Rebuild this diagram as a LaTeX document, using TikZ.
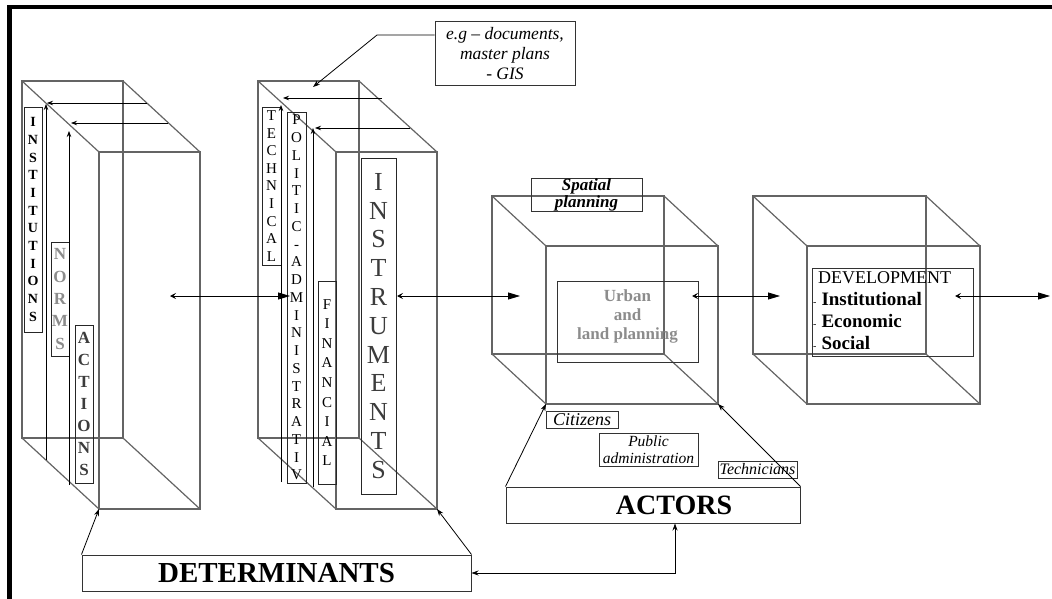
\documentclass[tikz,border=0pt]{standalone}
\usepackage{fontspec}
\setmainfont{Liberation Serif}
\usetikzlibrary{arrows.meta}
\definecolor{edgecol}{RGB}{100,100,100}
\definecolor{lgray}{RGB}{140,140,140}
\definecolor{dgray}{RGB}{60,60,60}
\newcommand\wirebox[7]{%
  \coordinate (#1btl) at (#2,#3);
  \coordinate (#1btr) at (#4,#3);
  \coordinate (#1bbl) at (#2,#5);
  \coordinate (#1bbr) at (#4,#5);
  \coordinate (#1ftl) at (#2+#6,#3+#7);
  \coordinate (#1ftr) at (#4+#6,#3+#7);
  \coordinate (#1fbl) at (#2+#6,#5+#7);
  \coordinate (#1fbr) at (#4+#6,#5+#7);
  \draw[edgeline] (#1btl) rectangle (#1bbr);
  \draw[edgeline] (#1ftl) rectangle (#1fbr);
  \draw[edgeline] (#1btl) -- (#1ftl) (#1btr) -- (#1ftr) (#1bbl) -- (#1fbl) (#1bbr) -- (#1fbr);
}
\begin{document}
\begin{tikzpicture}[x=1pt,y=-1pt,
  edgeline/.style={draw=edgecol, line width=1.2pt},
  lbox/.style={draw=black!85, line width=0.8pt, inner sep=0pt, align=center},
  tbox/.style={draw=black!80, line width=1pt, inner sep=0pt, align=center},
  arr/.style={draw=black, line width=0.8pt},
  inarrow/.style={arr, -{Stealth[length=6pt,width=4.5pt]}},
  dblarrow/.style={arr, {Stealth[length=6pt,width=6pt,inset=2.5pt]}-{Triangle[length=12pt,width=7pt]}},
  tiparrow/.style={arr, -{Stealth[length=7pt,width=5pt]}},
]
\useasboundingbox (0,0) rectangle (1052,599);
% frame lines
\draw[line width=4.5pt] (9.5,599) -- (9.5,7) -- (1052,7);

% wireframe boxes
\wirebox{pa}{22}{81}{123}{438}{77}{71}
\wirebox{pb}{258}{81}{359}{438}{78}{71}
\wirebox{pc}{492}{196}{664}{354}{54}{50}
\wirebox{pd}{753}{196}{926}{354}{54}{50}

% prism 1 letters
\node[lbox, minimum width=18, minimum height=225, font={\bfseries\fontsize{14}{17.7}\selectfont}] (inst) at (33,219.5)
  {I\\N\\S\\T\\I\\T\\U\\T\\I\\O\\N\\S};
\node[lbox, minimum width=18, minimum height=114, text=lgray, font={\bfseries\fontsize{17}{22.3}\selectfont}] (norms) at (60,299)
  {N\\O\\R\\M\\S};
\node[lbox, minimum width=18, minimum height=158, text=dgray, font={\bfseries\fontsize{17}{22}\selectfont}] (actions) at (84,404)
  {A\\C\\T\\I\\O\\N\\S};

% prism 1 inner arrows
\coordinate (pa1r) at (147,103); \coordinate (pa1t) at (47,103);
\coordinate (pa2r) at (168,123); \coordinate (pa2t) at (71,123);
\coordinate (pav1b) at (46,460); \coordinate (pav1t) at (46,104);
\coordinate (pav2b) at (69,485); \coordinate (pav2t) at (69,131);
\draw[inarrow] (pa1r) -- (pa1t);
\draw[inarrow] (pa2r) -- (pa2t);
\draw[inarrow] (pav1b) -- (pav1t);
\draw[inarrow] (pav2b) -- (pav2t);

% prism 2 letters
\node[lbox, minimum width=19, minimum height=158, font={\fontsize{15}{17.6}\selectfont}] (tech) at (271.5,186)
  {T\\E\\C\\H\\N\\I\\C\\A\\L};
\node[lbox, minimum width=19, minimum height=371, font={\fontsize{15}{17.75}\selectfont}] (polit) at (296.5,297.5)
  {P\\O\\L\\I\\T\\I\\C\\-\\A\\D\\M\\I\\N\\I\\S\\T\\R\\A\\T\\I\\V};
\node[lbox, minimum width=18, minimum height=203, font={\fontsize{15}{19.6}\selectfont}] (fin) at (327,382.5)
  {F\\I\\N\\A\\N\\C\\I\\A\\L};
\node[lbox, minimum width=35, minimum height=336, text=dgray, font={\fontsize{26}{28.8}\selectfont}] (instr) at (378.5,326)
  {I\\N\\S\\T\\R\\U\\M\\E\\N\\T\\S};

% prism 2 inner arrows
\coordinate (pb1r) at (382,98); \coordinate (pb1t) at (283,98);
\coordinate (pb2r) at (410,128); \coordinate (pb2t) at (315,128);
\coordinate (pbv1b) at (281,482); \coordinate (pbv1t) at (281,105);
\coordinate (pbv2b) at (313,487); \coordinate (pbv2t) at (313,128);
\draw[inarrow] (pb1r) -- (pb1t);
\draw[inarrow] (pb2r) -- (pb2t);
\draw[inarrow] (pbv1b) -- (pbv1t);
\draw[inarrow] (pbv2b) -- (pbv2t);

% e.g. box
\node[tbox, minimum width=140, minimum height=64, font={\itshape\fontsize{17.5}{20}\selectfont}] (eg) at (505,54)
  {e.g -- documents,\\master plans\\- GIS};
\coordinate (egy) at (0,35);
\coordinate (egbend) at (377,35);
\coordinate (egtip) at (313,87);
\draw[tiparrow] (eg.west |- egy) -- (egbend) -- (egtip);

% cube 3 contents
\node[tbox, minimum width=111, minimum height=33, font={\bfseries\itshape\fontsize{17}{17}\selectfont}] (spatial) at (586.5,194.5)
  {Spatial\\planning};
\node[tbox, minimum width=141, minimum height=81] (urban) at (627.5,321.5) {};
\node[inner sep=0pt, align=center, text=lgray, font={\bfseries\fontsize{17}{19}\selectfont}] (urbantext) at (627.5,316)
  {Urban\\and\\land planning};

% cube 4 contents
\node[tbox, minimum width=161, minimum height=88] (devel) at (892.5,312) {};
\node[inner sep=0pt, align=left, anchor=north west, font={\fontsize{18}{22}\selectfont}] (develtext) at (813,271)
  {\hspace*{5pt}DEVELOPMENT\\
   {\fontsize{10}{10}\selectfont -}\hspace{5pt}{\bfseries\fontsize{19}{22}\selectfont Institutional}\\
   {\fontsize{10}{10}\selectfont -}\hspace{5pt}{\bfseries\fontsize{19}{22}\selectfont Economic}\\
   {\fontsize{10}{10}\selectfont -}\hspace{5pt}{\bfseries\fontsize{19}{22}\selectfont Social}};

% main horizontal arrows
\coordinate (m1l) at (170,296); \coordinate (m1r) at (290,296);
\coordinate (m2l) at (397,296); \coordinate (m2r) at (520,296);
\coordinate (m3l) at (692,296); \coordinate (m3r) at (780,296);
\coordinate (m4l) at (955,296); \coordinate (m4r) at (1050,296);
\draw[dblarrow] (m1l) -- (m1r);
\draw[dblarrow] (m2l) -- (m2r);
\draw[dblarrow] (m3l) -- (m3r);
\draw[dblarrow] (m4l) -- (m4r);

% actors
\node[tbox, minimum width=72, minimum height=17, font={\itshape\fontsize{18}{17}\selectfont}] (citizens) at (582,419.5) {Citizens};
\node[tbox, minimum width=99, minimum height=33, font={\itshape\fontsize{15.5}{17}\selectfont}] (public) at (648.5,449.5) {Public\\administration};
\node[tbox, minimum width=79, minimum height=17, font={\itshape\fontsize{16}{17}\selectfont}] (techn) at (757.5,469.5) {Technicians};
\node[tbox, minimum width=294, minimum height=36, font={\bfseries\fontsize{28}{30}\selectfont}] (actors) at (653,505) {\hspace*{42pt}ACTORS};
\draw[tiparrow] (actors.north west) -- (pcfbl);
\draw[tiparrow] (actors.north east) -- (pcfbr);

% determinants
\node[tbox, minimum width=389, minimum height=36, font={\bfseries\fontsize{29}{30}\selectfont}] (det) at (276.5,573) {DETERMINANTS};
\draw[tiparrow] (det.north west) -- (pafbl);
\draw[tiparrow] (det.north east) -- (pbfbr);
\coordinate (actcorner) at (675,573);
\draw[arr, {Stealth[length=7pt,width=5pt]}-{Stealth[length=7pt,width=5pt]}] (det.east) -- (actcorner) -- (actcorner |- actors.south);
\end{tikzpicture}
\end{document}
